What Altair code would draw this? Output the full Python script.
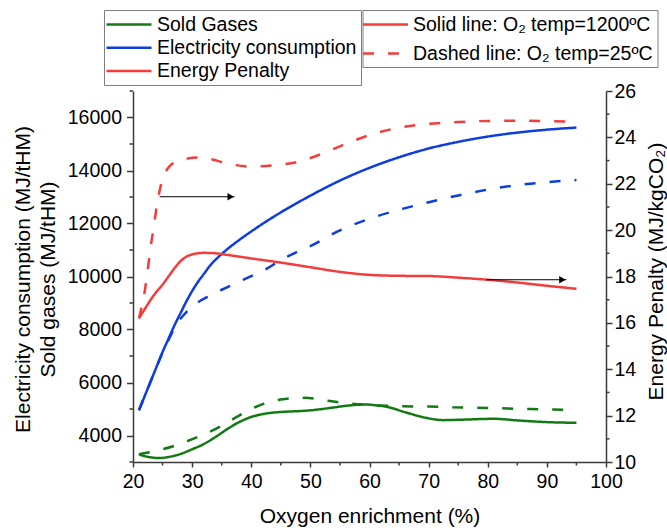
import altair as alt
import pandas as pd

FONT = "Liberation Sans"
GREEN = "#127a12"
BLUE = "#0d3ddf"
RED = "#f43c3c"
AXIS_COLOR = "#3a3a3a"

SERIES = ["Sold Gases", "Electricity consumption", "Energy Penalty"]
TEMPS = ["Solid line: O₂ temp=1200ºC", "Dashed line: O₂ temp=25ºC"]

# ---- Sold gases (left axis, MJ/tHM)
sold_solid_x = [21, 22, 23, 24.5, 26, 28, 30, 32, 34, 36, 38, 40, 42, 44, 46, 48, 50, 52, 54, 56, 58, 59.5, 61, 63, 66, 69.5, 72.5, 76, 81, 85, 90, 95]
sold_solid_y = [3290, 3220, 3175, 3150, 3190, 3300, 3480, 3680, 3950, 4250, 4510, 4700, 4810, 4870, 4900, 4920, 4950, 5000, 5060, 5120, 5160, 5170, 5140, 5080, 4880, 4670, 4580, 4600, 4630, 4570, 4505, 4480]
sold_dash_x = [21, 23, 25, 27, 29, 31, 33, 35, 37, 39, 41, 43, 45, 47, 49, 51, 53, 55.5, 60, 65, 70, 74, 80, 85, 90, 95]
sold_dash_y = [3290, 3380, 3480, 3610, 3770, 3950, 4140, 4370, 4630, 4880, 5100, 5260, 5360, 5410, 5420, 5380, 5310, 5235, 5150, 5107, 5090, 5070, 5040, 5010, 4985, 4957]

# ---- Electricity consumption (left axis, MJ/tHM)
elec_solid_x = [21, 22, 23, 24, 25, 26, 27, 28, 29, 30, 31, 32, 33, 35, 37.5, 40, 45, 50, 55, 60, 65, 70, 75, 80, 85, 90, 95]
elec_solid_y = [4950, 5500, 6050, 6600, 7150, 7650, 8150, 8600, 9050, 9450, 9800, 10100, 10400, 10850, 11300, 11700, 12420, 13050, 13620, 14100, 14500, 14830, 15080, 15280, 15430, 15540, 15620]
elec_dash_x = [21, 22, 23, 24, 25, 26, 27, 28, 29, 30, 31, 32.5, 35, 37.5, 40, 42.5, 45, 47.5, 50, 55, 60, 65, 70, 75, 80, 85, 90, 95]
elec_dash_y = [4950, 5500, 6050, 6600, 7120, 7600, 8050, 8400, 8650, 8850, 9030, 9220, 9500, 9760, 10010, 10280, 10620, 10900, 11150, 11740, 12180, 12520, 12800, 13060, 13280, 13450, 13560, 13640]

# ---- Energy penalty (right axis, MJ/kgCO2)
pen_solid_x = [21, 22, 23, 24, 25, 26, 27, 28, 29, 30, 32, 34, 36, 40, 45, 50, 55, 60, 65, 70, 75, 80, 85, 90, 95]
pen_solid_y = [16.2, 16.6, 17.0, 17.35, 17.65, 18.0, 18.35, 18.65, 18.85, 18.95, 19.02, 19.0, 18.93, 18.78, 18.6, 18.4, 18.2, 18.07, 18.03, 18.02, 17.95, 17.86, 17.74, 17.6, 17.47]
pen_dash_x = [21, 22, 22.5, 23, 23.5, 24, 24.5, 25, 26, 27, 28.5, 31, 33, 36, 40, 44, 48, 52, 56, 60, 65, 70, 75, 80, 85, 90, 95]
pen_dash_y = [16.2, 17.4, 18.3, 19.3, 20.1, 21.0, 21.7, 22.2, 22.7, 22.92, 23.05, 23.13, 23.07, 22.87, 22.74, 22.8, 22.95, 23.3, 23.72, 24.1, 24.42, 24.58, 24.66, 24.71, 24.72, 24.7, 24.67]

# ---- annotation arrows (right-axis units)
arrow_x0 = [24.5, 79.8]
arrow_x1 = [37.2, 93.3]
arrow_y = [21.44, 17.86]

# ---- ticks
x_major = [20, 30, 40, 50, 60, 70, 80, 90, 100]
x_minor = [25, 35, 45, 55, 65, 75, 85, 95]
left_major = [4000, 6000, 8000, 10000, 12000, 14000, 16000]
left_minor = [3000, 5000, 7000, 9000, 11000, 13000, 15000, 17000]
right_major = [10, 12, 14, 16, 18, 20, 22, 24, 26]
right_minor = [11, 13, 15, 17, 19, 21, 23, 25]

W, H = 473, 371


def frame(xs, ys, series, temp):
    return pd.DataFrame({"x": xs, "y": ys, "series": series, "temp": temp})


left_df = pd.concat([
    frame(sold_solid_x, sold_solid_y, SERIES[0], TEMPS[0]),
    frame(sold_dash_x, sold_dash_y, SERIES[0], TEMPS[1]),
    frame(elec_solid_x, elec_solid_y, SERIES[1], TEMPS[0]),
    frame(elec_dash_x, elec_dash_y, SERIES[1], TEMPS[1]),
])
right_df = pd.concat([
    frame(pen_solid_x, pen_solid_y, SERIES[2], TEMPS[0]),
    frame(pen_dash_x, pen_dash_y, SERIES[2], TEMPS[1]),
])
arrow_df = pd.DataFrame({"x0": arrow_x0, "x1": arrow_x1, "y": arrow_y})

# wide horizontal line glyph (path in the -1..1 unit box, stretched)
LINE_GLYPH = "M-2.5,0H2.5"

legend_common = dict(
    orient="none", title=None, direction="vertical",
    symbolType=LINE_GLYPH, symbolSize=324, symbolStrokeWidth=2.5,
    labelFont=FONT, labelFontSize=19.5, labelColor="black", labelLimit=0,
    strokeColor="#808080", fillColor="white",
)

color_enc = alt.Color(
    "series:N",
    scale=alt.Scale(domain=SERIES, range=[GREEN, BLUE, RED]),
    legend=alt.Legend(legendX=-29, legendY=-81, padding=4, rowPadding=3.2,
                      symbolOffset=10.5, labelOffset=17.5, **legend_common),
)
dash_enc = alt.StrokeDash(
    "temp:N",
    scale=alt.Scale(domain=TEMPS, range=[[1, 0], [11, 14]]),
    legend=alt.Legend(legendX=229.5, legendY=-81, padding=4, rowPadding=9,
                      symbolOffset=8.5, labelOffset=17,
                      symbolStrokeColor=RED, **legend_common),
)

x_scale = alt.Scale(domain=[20, 100], nice=False, zero=False)
x_axis = alt.Axis(values=x_major, format="d", title="Oxygen enrichment (%)",
                  tickSize=5, labelPadding=5, titlePadding=15, labelFlush=False)

left_scale = alt.Scale(domain=[3000, 17000], nice=False, zero=False)
left_axis = alt.Axis(orient="left", values=left_major, format="d", labelFlush=False,
                     title=["Electricity consumption (MJ/tHM)", "Sold gases (MJ/tHM)"],
                     tickSize=6.5, labelPadding=5, titleAngle=270,
                     titleX=-110, titleY=188, titleAlign="center", titleBaseline="middle",
                     titleLineHeight=25)
right_scale = alt.Scale(domain=[10, 26], nice=False, zero=False)
right_axis = alt.Axis(orient="right", values=right_major, format="d", labelFlush=False,
                      title="Energy Penalty (MJ/kgCO₂)",
                      tickSize=6, labelPadding=2, titleAngle=270,
                      titleX=50, titleY=180, titleAlign="center", titleBaseline="middle")

X = alt.X("x:Q", scale=x_scale, axis=x_axis)
YL = alt.Y("y:Q", scale=left_scale, axis=left_axis)
YR = alt.Y("y:Q", scale=right_scale, axis=right_axis)

left_lines = alt.Chart(left_df).mark_line(interpolate="monotone", strokeWidth=2.5).encode(
    x=X, y=YL, color=color_enc, strokeDash=dash_enc
)
left_minor_ticks = alt.Chart(pd.DataFrame({"y": left_minor})).mark_rule(
    color=AXIS_COLOR, strokeWidth=1.5
).encode(y=YL, x=alt.value(0), x2=alt.value(-3.5))
x_minor_ticks = alt.Chart(pd.DataFrame({"x": x_minor})).mark_rule(
    color=AXIS_COLOR, strokeWidth=1.5
).encode(x=X, y=alt.value(H), y2=alt.value(H + 3.5))

right_lines = alt.Chart(right_df).mark_line(interpolate="monotone", strokeWidth=2.5).encode(
    x=X, y=YR, color=color_enc, strokeDash=dash_enc
)
right_minor_ticks = alt.Chart(pd.DataFrame({"y": right_minor})).mark_rule(
    color=AXIS_COLOR, strokeWidth=1.5
).encode(y=YR, x=alt.value(W), x2=alt.value(W + 3.5))
arrow_lines = alt.Chart(arrow_df).mark_rule(color="black", strokeWidth=1).encode(
    x=alt.X("x0:Q", scale=x_scale, axis=x_axis), x2="x1:Q", y=YR
)
arrow_heads = alt.Chart(arrow_df).mark_point(
    shape="triangle-right", filled=True, color="black", size=55, opacity=1, xOffset=-4
).encode(x=alt.X("x1:Q", scale=x_scale, axis=x_axis), y=YR)

left_layer = alt.layer(left_lines, left_minor_ticks, x_minor_ticks)
right_layer = alt.layer(right_lines, right_minor_ticks, arrow_lines, arrow_heads)

chart = alt.layer(left_layer, right_layer).resolve_scale(y="independent").properties(
    width=W, height=H,
    background="white",
    autosize=alt.AutoSizeParams(type="none"),
    padding={"left": 133, "top": 91, "right": 61, "bottom": 70},
).configure_view(stroke=None).configure_axis(
    domainColor=AXIS_COLOR, domainWidth=1.5, tickColor=AXIS_COLOR, tickWidth=1.5,
    labelFont=FONT, labelFontSize=19.5, labelColor="black",
    titleFont=FONT, titleFontSize=21, titleFontWeight="normal", titleColor="black",
    grid=False,
)

chart.save("out.html", embed_options={"renderer": "svg", "actions": False})
